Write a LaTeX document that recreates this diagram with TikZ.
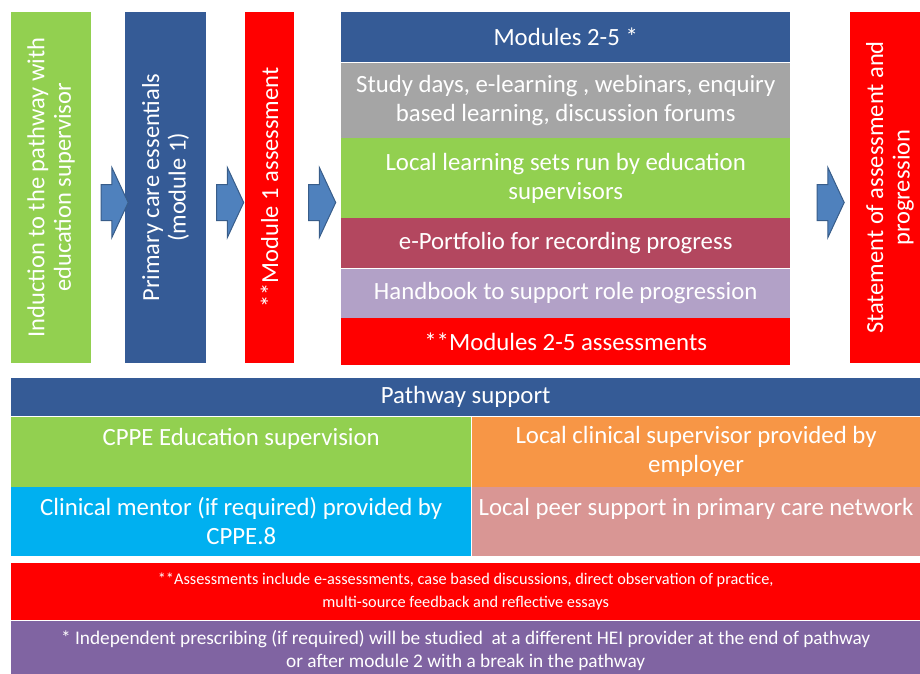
\documentclass[tikz,border=0pt]{standalone}
\usepackage{fontspec}
\setmainfont{Carlito}
\usetikzlibrary{shapes.arrows}

\definecolor{navy}{HTML}{355B96}
\definecolor{grey}{HTML}{A5A5A5}
\definecolor{lgreen}{HTML}{92D050}
\definecolor{maroon}{HTML}{B3475F}
\definecolor{lavender}{HTML}{B2A1C7}
\definecolor{orange}{HTML}{F79646}
\definecolor{cyan}{HTML}{00B0F0}
\definecolor{pink}{HTML}{D99694}
\definecolor{purple}{HTML}{8064A2}
\definecolor{arrowfill}{HTML}{4F81BD}
\definecolor{arrowedge}{HTML}{385D8A}

\tikzset{
  box/.style={rectangle, inner sep=0pt, anchor=north west, text=white, align=center,
    font=\fontsize{24.8}{29}\selectfont},
  vbox/.style={rectangle, inner sep=0pt, rotate=90, text=white, align=center,
    font=\fontsize{24.5}{26.5}\selectfont},
  note/.style={box, font=\fontsize{16.3}{23}\selectfont},
  flowarrow/.style={single arrow, draw=arrowedge, line width=1pt, fill=arrowfill,
    minimum height=27, inner xsep=0pt, inner ysep=17.5pt,
    single arrow head extend=17pt, single arrow tip angle=130, single arrow head indent=0pt}
}

\begin{document}
\begin{tikzpicture}[x=1pt,y=-1pt]
  \useasboundingbox (0,0) rectangle (920,673);
  \clip (0,0) rectangle (920,673);

  % steps of the pathway
  \node[vbox, fill=lgreen, minimum width=351, minimum height=80] (ind) at (51,187.5) {Induction to the pathway with\\education supervisor};
  \node[vbox, fill=navy, minimum width=351, minimum height=81] (pce) at (165.5,187.5) {Primary care essentials\\(module 1)};
  \node[vbox, fill=red, minimum width=351, minimum height=49] (mass) at (269.5,187.5) {**Module 1 assessment};
  \node[vbox, fill=red, minimum width=351, minimum height=80] (stmt) at (890,187.5) {Statement of assessment and\\progression};

  \node[flowarrow] (a1) at (110.5,202.5) {};
  \node[flowarrow] (a2) at (226,202.5) {};
  \node[flowarrow] (a3) at (318,202.5) {};
  \node[flowarrow] (a4) at (826.5,202.5) {};

  % modules 2-5
  \node[box, fill=navy, minimum width=449, minimum height=50] (mod) at (341,12) {Modules 2-5 *};
  \node[box, fill=grey, minimum width=449, minimum height=75] (study) at (mod.south west) {Study days, e-learning , webinars, enquiry\\based learning, discussion forums};
  \node[box, fill=lgreen, minimum width=449, minimum height=80] (sets) at (study.south west) {Local learning sets run by education\\supervisors};
  \node[box, fill=maroon, minimum width=449, minimum height=50] (port) at (sets.south west) {e-Portfolio for recording progress};
  \node[box, fill=lavender, minimum width=449, minimum height=49] (hand) at (port.south west) {Handbook to support role progression};
  \node[box, fill=red, minimum width=449, minimum height=47] (modass) at (hand.south west) {**Modules 2-5 assessments};

  % pathway support
  \node[box, fill=navy, minimum width=909, minimum height=38] (psup) at (11,378) {Pathway support};
  \node[box, fill=lgreen, minimum width=460, minimum height=70] (cppe) at (psup.south west) {CPPE Education supervision\\~};
  \node[box, fill=orange, minimum width=449, minimum height=70] (lcs) at (cppe.north east) {Local clinical supervisor provided by\\employer};
  \node[box, fill=cyan, minimum width=460, minimum height=69] (ment) at (cppe.south west) {Clinical mentor (if required) provided by\\CPPE.8};
  \node[box, fill=pink, minimum width=449, minimum height=69] (peer) at (ment.north east) {Local peer support in primary care network\\~};

  % notes
  \node[note, fill=red, minimum width=909, minimum height=57] (asn) at (11,563) {**Assessments include e-assessments, case based discussions, direct observation of practice,\\multi-source feedback and reflective essays};
  \node[note, fill=purple, minimum width=909, minimum height=60, font=\fontsize{19.3}{23}\selectfont] (ipn) at (asn.south west) {* Independent prescribing (if required) will be studied\ \ at a different HEI provider at the end of pathway\\or after module 2 with a break in the pathway};
\end{tikzpicture}
\end{document}
